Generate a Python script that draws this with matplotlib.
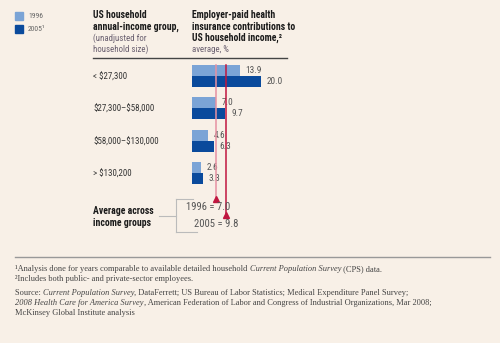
import matplotlib
matplotlib.use("Agg")
import matplotlib.pyplot as plt
from matplotlib import font_manager
from matplotlib.lines import Line2D
from matplotlib.transforms import blended_transform_factory

plt.rcParams["text.parse_math"] = False

# data
groups = ["< $27,300", "$27,300\u2013$58,000", "$58,000\u2013$130,000", "> $130,200"]
val_1996 = [13.9, 7.0, 4.6, 2.6]
val_2005 = [20.0, 9.7, 6.3, 3.3]
avg_1996 = 7.0
avg_2005 = 9.8

c96 = "#7ba4d6"
c05 = "#0a4a9c"
bg = "#f8f0e7"
line96 = "#e791a2"
line05 = "#c0163f"

# pick the narrowest sans family that is installed
installed = {f.name for f in font_manager.fontManager.ttflist}
cands = ["Roboto Condensed", "Liberation Sans Narrow", "DejaVu Sans Condensed",
         "Roboto", "Liberation Sans", "DejaVu Sans"]
narrow = [c for c in cands if c in installed][:1] + ["DejaVu Sans"]
serif = ["Liberation Serif", "DejaVu Serif"]

W, H = 500, 343
fig = plt.figure(figsize=(5, 3.43), dpi=100, facecolor=bg)
renderer = fig.canvas.get_renderer()

def fx(x):
    return x / W

def fy(y):
    return 1 - y / H

def fit(s, width, **kw):
    # font size that makes s about width px wide
    t = fig.text(0, 0, s, fontsize=10, **kw)
    w = t.get_window_extent(renderer).width
    t.remove()
    return 10 * width / w

hsize = min(fit("insurance contributions to", 103, weight="bold", family=narrow), 8.5)
lsize = min(fit("$58,000\u2013$130,000", 65, family=narrow), 8)
asize = min(fit("1996 = 7.0", 44, family=narrow), 8)
vsize = min(fit("20.0", 16, family=narrow), 8)
gsize = min(fit("1996", 15, family=narrow), 7)

# bar axes: 3.45 px per percent point, rows 32.5 px apart
px_unit = 3.45
top, bot = 60, 220
ax = fig.add_axes([fx(192), fy(bot), 30 * px_unit / W, (bot - top) / H])
ax.set_facecolor("none")
ax.set_xlim(0, 30)
y0, step = 75.7, 32.5
ax.set_ylim((bot - y0) / step, (top - y0) / step)
ax.axis("off")

bh = 11 / step
ys = list(range(len(groups)))
ax.barh([y - bh / 2 for y in ys], val_1996, height=bh, color=c96)
ax.barh([y + bh / 2 for y in ys], val_2005, height=bh, color=c05)
for y, a, b in zip(ys, val_1996, val_2005):
    ax.annotate(f"{a:.1f}", (a, y - bh / 2), xytext=(4, 0), textcoords="offset points",
                va="center", ha="left", fontsize=vsize, color="#555555", family=narrow)
    ax.annotate(f"{b:.1f}", (b, y + bh / 2), xytext=(4, 0), textcoords="offset points",
                va="center", ha="left", fontsize=vsize, color="#555555", family=narrow)

# average lines with arrows
ytop = -bh
y96 = (199 - y0) / step
y05 = (215 - y0) / step
ax.plot([avg_1996, avg_1996], [ytop, y96], color=line96, lw=1.1, zorder=3)
ax.plot([avg_2005, avg_2005], [ytop, y05], color=line05, lw=1.1, zorder=3)
ax.plot([avg_1996], [y96], marker="^", color=line05, ms=4.5, zorder=4)
ax.plot([avg_2005], [y05], marker="^", color=line05, ms=4.5, zorder=4)

# row labels
tr = blended_transform_factory(fig.transFigure, ax.transData)
for y, g in zip(ys, groups):
    ax.text(fx(93), y + 0.03, g, transform=tr, ha="left", va="center",
            fontsize=lsize, color="#333333", family=narrow)

# legend
fig.patches.append(plt.Rectangle((fx(15), fy(20)), 8 / W, 8 / H, color=c96,
                                 transform=fig.transFigure, figure=fig))
fig.patches.append(plt.Rectangle((fx(15), fy(33)), 8 / W, 8 / H, color=c05,
                                 transform=fig.transFigure, figure=fig))
fig.text(fx(28), fy(16), "1996", fontsize=gsize, color="#666666", va="center", family=narrow)
fig.text(fx(28), fy(29), "2005\u00b9", fontsize=gsize, color="#666666", va="center", family=narrow)

# headers
hdr1 = ["US household", "annual-income group,"]
hdr1b = ["(unadjusted for", "household size)"]
hdr2 = ["Employer-paid health", "insurance contributions to", "US household income,\u00b2"]
for i, s in enumerate(hdr1):
    fig.text(fx(93), fy(15 + 11.5 * i), s, fontsize=hsize, weight="bold", color="#1a1a1a",
             va="center", family=narrow)
for i, s in enumerate(hdr1b):
    fig.text(fx(93), fy(38 + 11.5 * i), s, fontsize=lsize, color="#6a6070",
             va="center", family=narrow)
for i, s in enumerate(hdr2):
    fig.text(fx(192), fy(15 + 11.5 * i), s, fontsize=hsize, weight="bold", color="#1a1a1a",
             va="center", family=narrow)
fig.text(fx(192), fy(49.5), "average, %", fontsize=lsize, color="#6a6070", va="center", family=narrow)
fig.lines.append(Line2D([fx(93), fx(287)], [fy(58), fy(58)], color="#444444", lw=1,
                        transform=fig.transFigure))

# average block
fig.text(fx(93), fy(211), "Average across", fontsize=hsize, weight="bold", color="#1a1a1a",
         va="center", family=narrow)
fig.text(fx(93), fy(223), "income groups", fontsize=hsize, weight="bold", color="#1a1a1a",
         va="center", family=narrow)
fig.text(fx(186), fy(207), f"1996 = {avg_1996:.1f}", fontsize=asize, color="#555555",
         va="center", family=narrow)
fig.text(fx(194), fy(224), f"2005 = {avg_2005:.1f}", fontsize=asize, color="#555555",
         va="center", family=narrow)
gray = "#bbbbbb"
for xs, yv in [([159, 176], [215.7, 215.7]), ([176, 176], [199, 232]),
               ([176, 193], [199, 199]), ([176, 197], [232, 232])]:
    fig.lines.append(Line2D([fx(x) for x in xs], [fy(y) for y in yv], color=gray, lw=0.8,
                            transform=fig.transFigure))

# footnotes
fig.lines.append(Line2D([fx(15), fx(490)], [fy(257), fy(257)], color="#999999", lw=1,
                        transform=fig.transFigure))

notes = [
    (269, [("\u00b9Analysis done for years comparable to available detailed household ", "normal"),
           ("Current Population Survey", "italic"), (" (CPS) data.", "normal")]),
    (279, [("\u00b2Includes both public- and private-sector employees.", "normal")]),
    (293, [("Source: ", "normal"), ("Current Population Survey", "italic"),
           (", DataFerrett; US Bureau of Labor Statistics; Medical Expenditure Panel Survey;", "normal")]),
    (303, [("2008 Health Care for America Survey", "italic"),
           (", American Federation of Labor and Congress of Industrial Organizations, Mar 2008;", "normal")]),
    (313, [("McKinsey Global Institute analysis", "normal")]),
]
for yv, runs in notes:
    x = 15
    for s, style in runs:
        t = fig.text(fx(x), fy(yv), s, fontsize=6, style=style, color="#444444",
                     va="center", family=serif)
        x += t.get_window_extent(renderer).width

fig.savefig("out.png", dpi=100, facecolor=bg)
